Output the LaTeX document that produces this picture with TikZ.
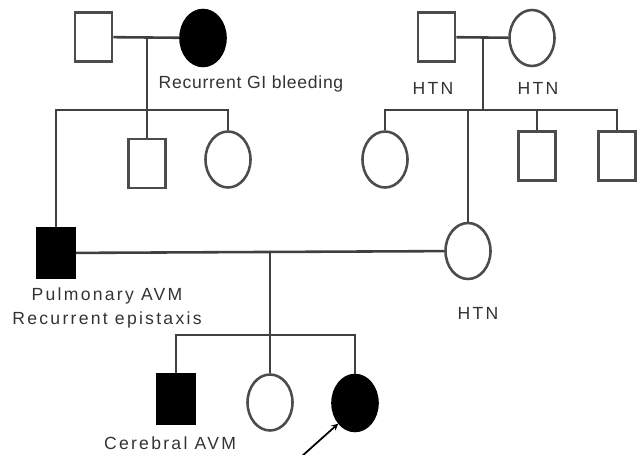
\documentclass[tikz,border=0pt]{standalone}
\usepackage{fontspec}
\setmainfont{Liberation Sans}[LetterSpace=13]
\newfontfamily\tightfont{Liberation Sans}[LetterSpace=4]
\usetikzlibrary{arrows}
\usetikzlibrary{shapes.geometric}
\begin{document}
\begin{tikzpicture}[x=0.03cm,y=-0.03cm,
  male/.style={draw=black!70,line width=2.2pt,rectangle,minimum width=1.11cm,minimum height=1.47cm,inner sep=0pt},
  female/.style={draw=black!70,line width=2.2pt,ellipse,minimum width=1.35cm,minimum height=1.68cm,inner sep=0pt},
  ill/.style={fill=black,draw=black},
  rel/.style={draw=black!75,line width=2.2pt},
  txt/.style={text=black!80,font=\fontsize{15}{21}\selectfont,align=center,inner sep=0pt}]
  \useasboundingbox (0,0) rectangle (637,455);
  \node[male] (1) at (93.5,37){};
  \node[female,ill] (2) at (203,38){};
  \node[male] (6) at (436.5,37){};
  \node[female] (7) at (532,38){};

  \node[male,ill] (5) at (56,253){};
  \node[male] (3) at (147,163.5){};
  \node[female] (4) at (228,159.5){};
  \node[female] (8) at (385,159.5){};
  \node[female] (12) at (468,251){};
  \node[male] (9) at (537,156){};
  \node[male] (10) at (617,156){};

  \node[male,ill] (11) at (176,399){};
  \node[female] (13) at (270,402.5){};
  \node[female,ill] (14) at (355,403){};

  \coordinate (m1) at (147,37);
  \coordinate (b1) at (147,110);
  \coordinate (m2) at (483,37);
  \coordinate (b2) at (483,110);
  \coordinate (m3) at (270,252);
  \coordinate (b3) at (270,335);
  \coordinate (a) at (301,457);

  \draw[rel](1)--(2);
  \draw[rel](6)--(7);
  \draw[rel](5)--(12);
  \draw[rel](m1)--(3);
  \draw[rel](5)|-(b1)-|(4);
  \draw[rel](m2)--(b2);
  \draw[rel](8)|-(b2)-|(10);
  \draw[rel](b2)-|(9);
  \draw[rel](12)--(12|-b2);
  \draw[rel](m3)--(13);
  \draw[rel](11)|-(b3)-|(14);
  \draw[-stealth,line width=1.5pt,black](a)--(14.south west);

  \node[txt,font=\fontsize{15}{21}\tightfont] (t1) at (251,84){Recurrent GI bleeding};
  \node[txt] (t2) at (433,88){HTN};
  \node[txt] (t3) at (538,88){HTN};
  \node[txt] (t4) at (107,308){Pulmonary AVM\\Recurrent epistaxis};
  \node[txt] (t5) at (478,313){HTN};
  \node[txt] (t6) at (170,443){Cerebral AVM};
\end{tikzpicture}
\end{document}
